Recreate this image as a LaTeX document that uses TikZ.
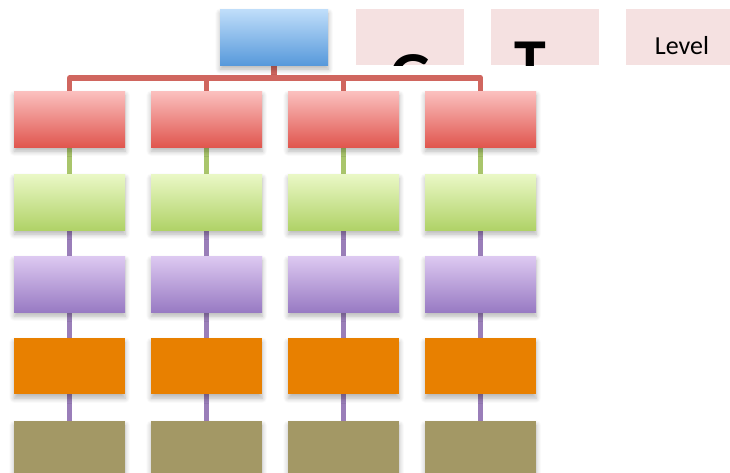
\documentclass[tikz,border=0pt]{standalone}
\usepackage{fontspec}
\setmainfont{Carlito}
\usetikzlibrary{shadows.blur,backgrounds}

\definecolor{blueTop}{HTML}{C0DEFA}
\definecolor{blueBot}{HTML}{5799DB}
\definecolor{redTop}{HTML}{FBC0BF}
\definecolor{redBot}{HTML}{E0564E}
\definecolor{greenTop}{HTML}{EAF8C6}
\definecolor{greenBot}{HTML}{B0D267}
\definecolor{purpleTop}{HTML}{DDC9F1}
\definecolor{purpleBot}{HTML}{987AC3}
\definecolor{orangeFill}{HTML}{E88000}
\definecolor{oliveFill}{HTML}{A39865}
\definecolor{pinkFill}{HTML}{F5E1E1}
\definecolor{redLine}{HTML}{D0665F}
\definecolor{greenLine}{HTML}{A9C56B}
\definecolor{purpleLine}{HTML}{9A7EB9}

\tikzset{
  box/.style={draw=none, inner sep=0pt, minimum width=111pt, minimum height=56pt,
    anchor=north west,
    blur shadow={shadow xshift=0pt, shadow yshift=-4pt, shadow blur steps=6,
      shadow blur radius=5pt, shadow opacity=30}},
  bluebox/.style={box, top color=blueTop, bottom color=blueBot, minimum width=108pt},
  redbox/.style={box, top color=redTop, bottom color=redBot},
  greenbox/.style={box, top color=greenTop, bottom color=greenBot},
  purplebox/.style={box, top color=purpleTop, bottom color=purpleBot},
  orangebox/.style={box, fill=orangeFill},
  olivebox/.style={box, fill=oliveFill},
  labelbox/.style={fill=pinkFill, inner sep=0pt, minimum width=108pt,
    minimum height=56pt, anchor=north west},
  link/.style={line width=5.5pt, line join=round},
  bigletter/.style={inner sep=0pt, anchor=base, font=\fontsize{64}{64}\selectfont\bfseries}
}

\begin{document}
\begin{tikzpicture}[x=1pt, y=-1pt]
  \useasboundingbox (0,0) rectangle (730,473);

  % heading boxes on the right
  \node[labelbox] (lg) at (356,9) {};
  \node[labelbox] (lt) at (491,9) {};
  \node[labelbox, minimum width=106pt] (ll) at (626,9) {};
  \begin{scope}
    \clip (lg.north west) rectangle (lg.south east);
    \node[bigletter] (tg) at (411,97) {G};
  \end{scope}
  \begin{scope}
    \clip (lt.north west) rectangle (lt.south east);
    \node[bigletter] (tt) at (530,84) {T};
  \end{scope}
  \node[font=\fontsize{26}{26}\selectfont, inner sep=0pt, anchor=base] (tl) at (682,55) {Level};

  % root
  \node[bluebox] (top) at (220,9) {};

  % grid of boxes, one column per branch
  \foreach \i/\x in {1/14, 2/151, 3/288, 4/425} {
    \node[redbox]    (r\i) at (\x,91)  {};
    \node[greenbox]  (g\i) at (\x,174) {};
    \node[purplebox] (p\i) at (\x,256) {};
    \node[orangebox] (o\i) at (\x,338) {};
    \node[olivebox]  (k\i) at (\x,421) {};
  }

  % connectors behind the boxes
  \coordinate (bar) at (0,78);
  \begin{scope}[on background layer]
    \draw[link, redLine] (top.south) -- (top.south |- bar);
    \draw[link, redLine] (r1.north) -- (r1.north |- bar) -- (r4.north |- bar) -- (r4.north);
    \draw[link, redLine] (r2.north) -- (r2.north |- bar);
    \draw[link, redLine] (r3.north) -- (r3.north |- bar);
    \foreach \i in {1,...,4} {
      \draw[link, greenLine] (r\i.south) -- (g\i.north);
      \draw[link, purpleLine] (g\i.south) -- (p\i.north);
      \draw[link, purpleLine] (p\i.south) -- (o\i.north);
      \draw[link, purpleLine] (o\i.south) -- (k\i.north);
    }
  \end{scope}
\end{tikzpicture}
\end{document}
